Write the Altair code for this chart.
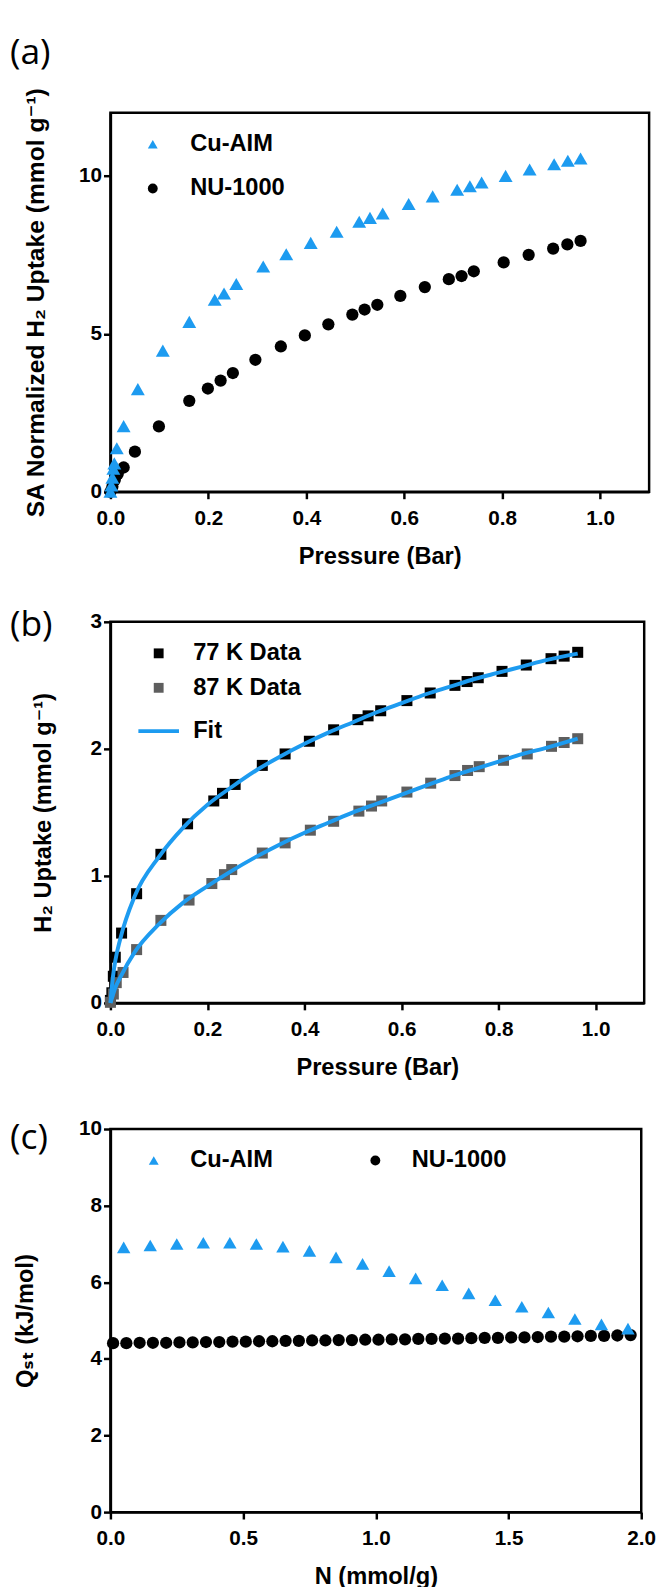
import altair as alt
import pandas as pd

BLUE = "#1d9bf0"
GRAY = "#5e5e5e"
FONT = "Liberation Sans, Arial, DejaVu Sans, sans-serif"
PANEL_FONT = "Open Sans, Lato, sans-serif"

# ---------------- Panel (a): SA normalized H2 uptake ----------------
a_cu_x = [0.0, 0.002, 0.004, 0.006, 0.008, 0.013, 0.027, 0.056, 0.107, 0.161,
          0.213, 0.232, 0.257, 0.312, 0.359, 0.409, 0.462, 0.508, 0.53, 0.556,
          0.609, 0.658, 0.708, 0.734, 0.758, 0.807, 0.856, 0.906, 0.934, 0.96]
a_cu_y = [0.0, 0.2, 0.45, 0.73, 0.9, 1.38, 2.08, 3.25, 4.47, 5.38,
          6.08, 6.28, 6.58, 7.13, 7.52, 7.88, 8.23, 8.55, 8.67, 8.81,
          9.11, 9.35, 9.56, 9.67, 9.79, 10.0, 10.2, 10.37, 10.48, 10.55]
a_nu_x = [0.0, 0.004, 0.009, 0.015, 0.027, 0.05, 0.099, 0.161, 0.199, 0.225,
          0.25, 0.296, 0.348, 0.397, 0.445, 0.494, 0.519, 0.545, 0.592, 0.642,
          0.691, 0.717, 0.742, 0.803, 0.854, 0.904, 0.933, 0.96]
a_nu_y = [0.0, 0.16, 0.38, 0.57, 0.77, 1.27, 2.07, 2.88, 3.27, 3.52,
          3.76, 4.18, 4.6, 4.95, 5.3, 5.61, 5.77, 5.92, 6.2, 6.48,
          6.73, 6.83, 6.98, 7.26, 7.5, 7.7, 7.83, 7.94]

# ---------------- Panel (b): 77 K / 87 K isotherms with fits ----------------
b77_x = [0.0, 0.003, 0.006, 0.01, 0.023, 0.054, 0.104, 0.159, 0.213, 0.231,
         0.257, 0.313, 0.36, 0.41, 0.46, 0.51, 0.531, 0.557, 0.611, 0.659,
         0.71, 0.735, 0.758, 0.807, 0.857, 0.908, 0.935, 0.963]
b77_y = [0.02, 0.08, 0.21, 0.36, 0.55, 0.86, 1.17, 1.41, 1.59, 1.65,
         1.72, 1.87, 1.96, 2.06, 2.15, 2.23, 2.26, 2.3, 2.38, 2.44,
         2.5, 2.53, 2.56, 2.61, 2.66, 2.71, 2.73, 2.76]
b87_x = [0.0, 0.006, 0.012, 0.026, 0.054, 0.104, 0.162, 0.209, 0.235, 0.25,
         0.313, 0.36, 0.412, 0.46, 0.512, 0.538, 0.559, 0.611, 0.66, 0.71,
         0.736, 0.76, 0.81, 0.859, 0.909, 0.935, 0.963]
b87_y = [0.005, 0.07, 0.16, 0.24, 0.42, 0.65, 0.81, 0.94, 1.01, 1.05,
         1.18, 1.26, 1.36, 1.43, 1.51, 1.55, 1.59, 1.66, 1.73, 1.79,
         1.83, 1.86, 1.91, 1.96, 2.02, 2.05, 2.08]
fit77_x = [0.0, 0.005, 0.01, 0.02, 0.05, 0.1, 0.15, 0.2, 0.25, 0.3, 0.35, 0.4,
           0.45, 0.5, 0.55, 0.6, 0.65, 0.7, 0.75, 0.8, 0.85, 0.9, 0.963]
fit77_y = [0.0, 0.2, 0.33, 0.5, 0.84, 1.15, 1.38, 1.56, 1.7, 1.83, 1.94, 2.04,
           2.13, 2.21, 2.29, 2.36, 2.43, 2.49, 2.55, 2.6, 2.65, 2.7, 2.75]
fit87_x = [0.0, 0.005, 0.01, 0.02, 0.05, 0.1, 0.15, 0.2, 0.25, 0.3, 0.35, 0.4,
           0.45, 0.5, 0.55, 0.6, 0.65, 0.7, 0.75, 0.8, 0.85, 0.9, 0.963]
fit87_y = [0.0, 0.06, 0.12, 0.2, 0.4, 0.62, 0.79, 0.92, 1.04, 1.15, 1.25, 1.34,
           1.42, 1.5, 1.57, 1.64, 1.71, 1.78, 1.84, 1.9, 1.96, 2.01, 2.08]

# ---------------- Panel (c): isosteric heat of adsorption ----------------
c_cu_x = [0.05, 0.15, 0.25, 0.35, 0.45, 0.55, 0.65, 0.75, 0.85, 0.95,
          1.05, 1.15, 1.25, 1.35, 1.45, 1.55, 1.65, 1.75, 1.85, 1.95]
c_cu_y = [6.91, 6.96, 7.0, 7.03, 7.03, 7.0, 6.93, 6.82, 6.65, 6.48,
          6.29, 6.1, 5.92, 5.71, 5.53, 5.36, 5.21, 5.04, 4.9, 4.79]
c_nu_x = [0.01, 0.06, 0.11, 0.16, 0.21, 0.26, 0.31, 0.36, 0.41, 0.46,
          0.51, 0.56, 0.61, 0.66, 0.71, 0.76, 0.81, 0.86, 0.91, 0.96,
          1.01, 1.06, 1.11, 1.16, 1.21, 1.26, 1.31, 1.36, 1.41, 1.46,
          1.51, 1.56, 1.61, 1.66, 1.71, 1.76, 1.81, 1.86, 1.91, 1.96]
c_nu_y = [4.41, 4.41, 4.42, 4.42, 4.42, 4.43, 4.43, 4.44, 4.44, 4.45,
          4.45, 4.46, 4.46, 4.47, 4.47, 4.48, 4.48, 4.49, 4.49, 4.50,
          4.50, 4.51, 4.51, 4.52, 4.52, 4.53, 4.53, 4.54, 4.55, 4.55,
          4.56, 4.56, 4.57, 4.58, 4.58, 4.59, 4.60, 4.60, 4.61, 4.62]

panel_labels = ["(a)", "(b)", "(c)"]
press_ticks = [0.0, 0.2, 0.4, 0.6, 0.8, 1.0]
SERIES = ["Cu-AIM", "NU-1000"]


def frame(df):
    return pd.DataFrame(df)


def panel_label(text, ypx):
    # panel letter placed beside the top-left corner of the plot frame
    return alt.Chart(frame({"label": [text]})).mark_text(
        font=PANEL_FONT, fontSize=36, fontWeight="normal", color="black",
        align="left", baseline="middle",
    ).encode(text="label:N", x=alt.value(-102), y=alt.value(ypx))


def two_marker_layers(x1, y1, x2, y2, xenc, yenc, legend, sizes):
    color = alt.Color("series:N", scale=alt.Scale(domain=SERIES, range=[BLUE, "black"]),
                      legend=legend)
    shape = alt.Shape("series:N", scale=alt.Scale(domain=SERIES,
                                                  range=["triangle-up", "circle"]),
                      legend=legend)
    l1 = alt.Chart(frame({"series": SERIES[0], "x": x1, "y": y1})).mark_point(
        filled=True, opacity=1, strokeWidth=0, clip=False, size=sizes[0]
    ).encode(x=xenc, y=yenc, color=color, shape=shape)
    l2 = alt.Chart(frame({"series": SERIES[1], "x": x2, "y": y2})).mark_point(
        filled=True, opacity=1, strokeWidth=0, clip=False, size=sizes[1]
    ).encode(x=xenc, y=yenc, color=color, shape=shape)
    return [l2, l1]


# ---- (a)
leg_a = alt.Legend(title=None, orient="none", legendX=31, legendY=20,
                   symbolSize=100, rowPadding=21, labelOffset=26,
                   symbolStrokeWidth=0)
xa = alt.X("x:Q", scale=alt.Scale(domain=[0, 1.1], nice=False),
           axis=alt.Axis(values=press_ticks, format=".1f", title="Pressure (Bar)"))
ya = alt.Y("y:Q", scale=alt.Scale(domain=[0, 12], nice=False),
           axis=alt.Axis(values=[0, 5, 10], format="d",
                         title="SA Normalized H\u2082 Uptake (mmol g\u207b\u00b9)",
                         titlePadding=31, titleFontSize=25))
chart_a = alt.layer(
    *two_marker_layers(a_cu_x, a_cu_y, a_nu_x, a_nu_y, xa, ya, leg_a, (200, 155)),
    panel_label(panel_labels[0], -60),
).properties(width=547, height=385)

# ---- (b)
df_b = pd.concat([
    frame({"series": "77 K Data", "x": b77_x, "y": b77_y}),
    frame({"series": "87 K Data", "x": b87_x, "y": b87_y}),
])
df_fit = pd.concat([
    frame({"fit": "Fit", "curve": "77", "x": fit77_x, "y": fit77_y}),
    frame({"fit": "Fit", "curve": "87", "x": fit87_x, "y": fit87_y}),
])
xb = alt.X("x:Q", scale=alt.Scale(domain=[0, 1.1], nice=False),
           axis=alt.Axis(values=press_ticks, format=".1f", title="Pressure (Bar)"))
yb = alt.Y("y:Q", scale=alt.Scale(domain=[0, 3], nice=False),
           axis=alt.Axis(values=[0, 1, 2, 3], format="d",
                         title="H\u2082 Uptake (mmol g\u207b\u00b9)", titlePadding=35))
pts_b = alt.Chart(df_b).mark_point(filled=True, opacity=1, size=125, shape="square",
                                   strokeWidth=0, clip=False).encode(
    x=xb, y=yb,
    color=alt.Color("series:N", scale=alt.Scale(domain=["77 K Data", "87 K Data"],
                                                range=["black", GRAY]),
                    legend=alt.Legend(title=None, orient="none", legendX=37, legendY=20,
                                      symbolType="square", symbolSize=100,
                                      rowPadding=11, labelOffset=23,
                                      symbolStrokeWidth=0)),
)
fit_b = alt.Chart(df_fit).mark_line(strokeWidth=4, interpolate="monotone").encode(
    x=xb, y=yb, detail="curve:N",
    stroke=alt.Stroke("fit:N", scale=alt.Scale(domain=["Fit"], range=[BLUE]),
                      legend=alt.Legend(title=None, orient="none", legendX=26, legendY=88,
                                        symbolType="stroke", symbolSize=1700,
                                        symbolStrokeWidth=4, labelOffset=12)),
)
chart_b = alt.layer(pts_b, fit_b, panel_label(panel_labels[1], 3)).properties(
    width=542, height=387)

# ---- (c)
leg_c = alt.Legend(title=None, orient="none", direction="horizontal",
                   legendX=32, legendY=20, symbolSize=100, labelOffset=25,
                   columnPadding=92, symbolStrokeWidth=0)
xc = alt.X("x:Q", scale=alt.Scale(domain=[0, 2], nice=False),
           axis=alt.Axis(values=[0, 0.5, 1.0, 1.5, 2.0], format=".1f",
                         title="N (mmol/g)"))
yc = alt.Y("y:Q", scale=alt.Scale(domain=[0, 10], nice=False),
           axis=alt.Axis(values=[0, 2, 4, 6, 8, 10], format="d",
                         title="Q\u209b\u209c (kJ/mol)", titlePadding=42))
chart_c = alt.layer(
    *two_marker_layers(c_cu_x, c_cu_y, c_nu_x, c_nu_y, xc, yc, leg_c, (185, 155)),
    panel_label(panel_labels[2], 9),
).properties(width=539, height=389)

chart = alt.concat(chart_a, chart_b, chart_c, columns=1, spacing=35).properties(
    padding={"left": 0, "top": 14, "right": 0, "bottom": 0},
).resolve_scale(color="independent", shape="independent",
                x="independent", y="independent", stroke="independent").resolve_legend(
    color="independent", shape="independent", stroke="independent"
).configure_view(
    stroke="black", strokeWidth=2.5
).configure_axis(
    grid=False, domainColor="black", domainWidth=2.5, tickColor="black",
    tickWidth=2.5, tickSize=7, labelFont=FONT, labelFontSize=21,
    labelFontWeight="bold", labelColor="black", titleFont=FONT,
    titleFontSize=24, titleFontWeight="bold", titleColor="black",
    labelFlush=False, labelOverlap=False,
).configure_axisX(
    labelPadding=9, titlePadding=17
).configure_axisY(
    labelPadding=2
).configure_legend(
    labelFont=FONT, labelFontSize=24, labelFontWeight="bold", labelColor="black",
    labelLimit=400,
)

chart.save("out.html", embed_options={"renderer": "svg", "actions": False})
